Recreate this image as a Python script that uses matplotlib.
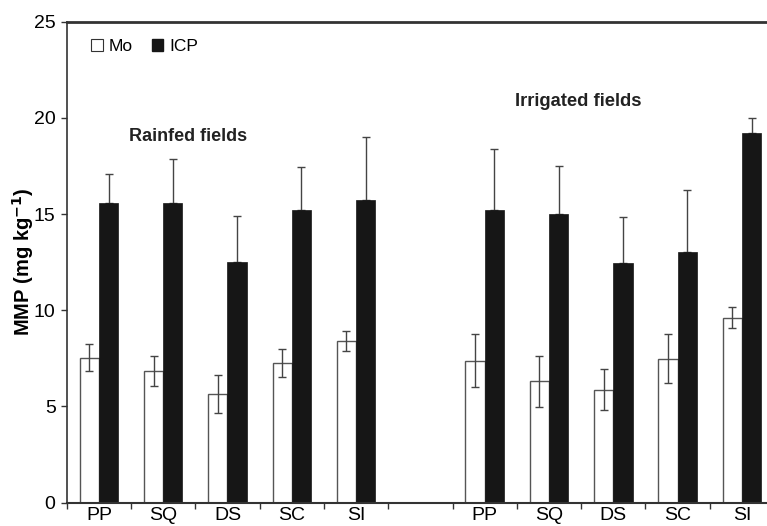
import matplotlib
matplotlib.use("Agg")
import matplotlib.pyplot as plt
from matplotlib.patches import Patch
import numpy as np

plt.rcParams['font.family'] = ['Liberation Sans', 'DejaVu Sans']

categories = ["PP", "SQ", "DS", "SC", "SI", "", "PP", "SQ", "DS", "SC", "SI"]
mo_rainfed = [7.54, 6.83, 5.66, 7.26, 8.40]
mo_rainfed_err = [0.71, 0.77, 0.99, 0.74, 0.53]
icp_rainfed = [15.56, 15.56, 12.50, 15.19, 15.71]
icp_rainfed_err = [1.53, 2.31, 2.42, 2.28, 3.29]
mo_irrigated = [7.38, 6.30, 5.88, 7.49, 9.62]
mo_irrigated_err = [1.39, 1.34, 1.06, 1.28, 0.54]
icp_irrigated = [15.23, 14.99, 12.45, 13.02, 19.23]
icp_irrigated_err = [3.17, 2.50, 2.40, 3.21, 0.74]

fig = plt.figure(figsize=(7.67, 5.26), dpi=100)
ax = fig.add_axes([0.087, 0.0443, 0.913, 0.9145])

x_rain = np.arange(5)
x_irr = np.arange(6, 11)
w = 0.3
ecol = '#444444'
ebar_kw = dict(ecolor=ecol, elinewidth=1.0, capsize=3, capthick=1.0, fmt='none')

mo_vals = mo_rainfed + mo_irrigated
mo_errs = mo_rainfed_err + mo_irrigated_err
icp_vals = icp_rainfed + icp_irrigated
icp_errs = icp_rainfed_err + icp_irrigated_err
xs = np.concatenate([x_rain, x_irr])

ax.bar(xs - w / 2, mo_vals, width=w, color='white', edgecolor='#555555', linewidth=1.0, zorder=2)
ax.bar(xs + w / 2, icp_vals, width=w, color='#161616', edgecolor='#161616', linewidth=0.5, zorder=2)
ax.errorbar(xs - w / 2, mo_vals, yerr=mo_errs, zorder=3, **ebar_kw)
ax.errorbar(xs + w / 2, icp_vals, yerr=[np.zeros(len(icp_errs)), icp_errs], zorder=1, **ebar_kw)

ax.set_xlim(-0.5, 10.39)
ax.set_ylim(0, 25)
ax.set_yticks([0, 5, 10, 15, 20, 25])
ax.set_xticks(np.arange(11))
ax.set_xticklabels(categories)
ax.set_xticks(np.arange(-0.5, 10.5, 1.0), minor=True)
ax.tick_params(axis='x', which='major', length=0, pad=3, labelsize=14)
ax.tick_params(axis='x', which='minor', length=4, width=1, color='#333333', direction='out')
ax.tick_params(axis='y', which='major', length=4, width=1, color='#333333', direction='out', labelsize=14, pad=4)

for s in ['left', 'bottom', 'top']:
    ax.spines[s].set_color('#333333')
ax.spines['left'].set_linewidth(1.2)
ax.spines['bottom'].set_linewidth(1.5)
ax.spines['top'].set_linewidth(2.0)
ax.spines['right'].set_visible(False)

ax.set_ylabel("MMP (mg kg$^{\\mathbf{-1}}$)", fontsize=14.5, fontweight='bold')
ax.yaxis.set_label_coords(-0.044, 0.5)

ax.text(1.38, 19.02, "Rainfed fields", fontsize=13, fontweight='bold', ha='center', va='center', color='#222222')
ax.text(7.46, 20.83, "Irrigated fields", fontsize=13.2, fontweight='bold', ha='center', va='center', color='#222222')

handles = [Patch(facecolor='white', edgecolor='#333333', linewidth=0.8, label='Mo'),
           Patch(facecolor='#161616', edgecolor='#161616', label='ICP')]
ax.legend(handles=handles, loc='center left', bbox_to_anchor=(0.035, 0.9486), ncol=2,
          frameon=False, fontsize=12.5, handlelength=0.66, handleheight=0.66,
          handletextpad=0.35, columnspacing=1.1, borderpad=0, borderaxespad=0)

fig.savefig("out.png", dpi=100)
